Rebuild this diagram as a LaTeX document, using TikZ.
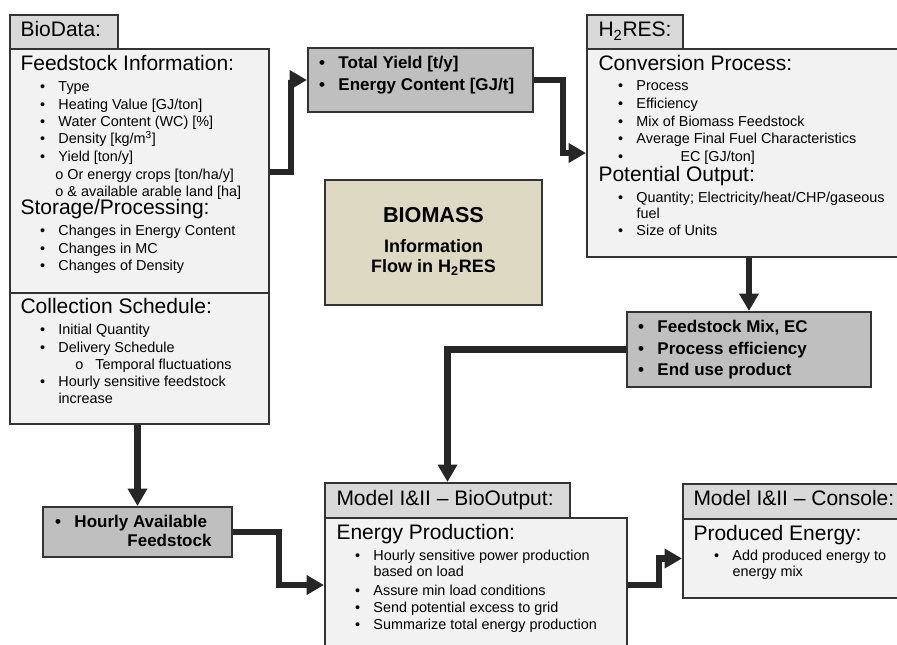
\documentclass[tikz,border=0pt]{standalone}
\usepackage{fontspec}
\setmainfont{Liberation Sans}
\usetikzlibrary{arrows.meta,fit}

\definecolor{panelgray}{HTML}{F2F2F2}
\definecolor{tabgray}{HTML}{D9D9D9}
\definecolor{infogray}{HTML}{BFBFBF}
\definecolor{biomasstan}{HTML}{DDD9C3}
\definecolor{edgeink}{HTML}{333333}
\definecolor{flowink}{HTML}{262626}

\newcommand\bul{\llap{\textbullet\hspace{10pt}}}

\tikzset{every picture/.style={line width=0.75pt}}
\tikzset{
  panel/.style={draw=edgeink, line width=1.5pt, fill=panelgray, inner sep=0pt},
  tabbox/.style={panel, fill=tabgray},
  infobox/.style={panel, fill=infogray},
  titlebox/.style={panel, fill=biomasstan},
  txt/.style={anchor=west, inner sep=0pt, text height=0.68em, text depth=0.12em},
  head/.style={txt, font=\fontsize{15.75}{18}\selectfont},
  item/.style={txt, font=\fontsize{10.8}{12.6}\selectfont},
  info/.style={txt, font=\bfseries\fontsize{12.75}{15}\selectfont},
  flow/.style={draw=flowink, line width=5pt, -{Triangle[length=13pt,width=14pt]}}
}

\begin{document}
\begin{tikzpicture}[x=0.75pt,y=0.75pt,yscale=-1,xscale=1]
\useasboundingbox (0,0) rectangle (897,644);
\clip (0,0) rectangle (897,644);

%Shape: Rectangle - BioData
\node[tabbox, fit={(10,15) (118,49)}] (biotab) {};
\node[panel, fit={(10,49) (269,293)}] (bioupper) {};
\node[panel, fit={(10,293) (269,424)}] (biolower) {};
%Shape: Rectangle - totals
\node[infobox, fit={(308,48) (533,112)}] (yieldbox) {};
%Shape: Rectangle - H2RES
\node[tabbox, fit={(587,15) (683,49)}] (h2tab) {};
\node[panel, fit={(587,49) (905,257)}] (h2box) {};
%Shape: Rectangle - title
\node[titlebox, fit={(325,180) (542,305)}] (biomass) {};
%Shape: Rectangle - mix
\node[infobox, fit={(627,312) (871,387)}] (mixbox) {};
%Shape: Rectangle - hourly
\node[infobox, fit={(43,507) (232,557)}] (hourbox) {};
%Shape: Rectangle - BioOutput
\node[tabbox, fit={(325,483) (570,518)}] (outtab) {};
\node[panel, fit={(325,518) (627,652)}] (outbox) {};
%Shape: Rectangle - Console
\node[tabbox, fit={(683,484) (905,519)}] (contab) {};
\node[panel, fit={(683,519) (905,598)}] (conbox) {};

%Straight Lines - flows
\draw[flow] (bioupper.east |- 0,172) -- ++(21,0) |- (yieldbox.west);
\draw[flow] (yieldbox.east) -- ++(29,0) |- (h2box.west);
\draw[flow] (h2box.south -| mixbox.north) -- (mixbox.north);
\draw[flow] (mixbox.west) -| (outtab.north);
\draw[flow] (biolower.south -| hourbox.north) -- (hourbox.north);
\draw[flow] (hourbox.east) -- ++(46,0) |- (outbox.west);
\draw[flow] (outbox.east) -- ++(31,0) |- (conbox.west);

% Text Node - BioData
\node[head] (biotitle) at (20,33) {BioData:};
\node[head] (fihead) at (20,67) {Feedstock Information:};
\node[item] (fi1) at (58,88) {\bul Type};
\node[item] (fi2) at (58,106) {\bul Heating Value [GJ/ton]};
\node[item] (fi3) at (58,123) {\bul Water Content (WC) [\%]};
\node[item] (fi4) at (58,140) {\bul Density [kg/m\textsuperscript{3}]};
\node[item] (fi5) at (58,158) {\bul Yield [ton/y]};
\node[item] (fi6) at (67,176) {\llap{o\hspace{3pt}}Or energy crops [ton/ha/y]};
\node[item] (fi7) at (67,193) {\llap{o\hspace{3pt}}\& available arable land [ha]};
\node[head] (sphead) at (20,211) {Storage/Processing:};
\node[item] (sp1) at (58,232) {\bul Changes in Energy Content};
\node[item] (sp2) at (58,250) {\bul Changes in MC};
\node[item] (sp3) at (58,267) {\bul Changes of Density};
\node[head] (cshead) at (20,310) {Collection Schedule:};
\node[item] (cs1) at (58,331) {\bul Initial Quantity};
\node[item] (cs2) at (58,349) {\bul Delivery Schedule};
\node[item] (cs3) at (95,366) {\llap{o\hspace{9pt}}Temporal fluctuations};
\node[item] (cs4) at (58,383) {\bul Hourly sensitive feedstock};
\node[item] (cs5) at (58,400) {increase};

% Text Node - totals
\node[info] (ty1) at (338,65) {\bul Total Yield [t/y]};
\node[info] (ty2) at (338,87) {\bul Energy Content [GJ/t]};

% Text Node - H2RES
\node[head] (h2title) at (598,33) {H\textsubscript{2}RES:};
\node[head] (cphead) at (598,67) {Conversion Process:};
\node[item] (cp1) at (636,87) {\bul Process};
\node[item] (cp2) at (636,105) {\bul Efficiency};
\node[item] (cp3) at (636,123) {\bul Mix of Biomass Feedstock};
\node[item] (cp4) at (636,140) {\bul Average Final Fuel Characteristics};
\node[item] (cp5) at (680,158) {\llap{\textbullet\hspace{43pt}}EC [GJ/ton]};
\node[head] (pohead) at (598,178) {Potential Output:};
\node[item] (po1) at (636,199) {\bul Quantity; Electricity/heat/CHP/gaseous};
\node[item] (po2) at (636,215) {fuel};
\node[item] (po3) at (636,232) {\bul Size of Units};

% Text Node - title
\node[txt, anchor=center, font=\bfseries\fontsize{16.2}{19}\selectfont] (bmtitle) at (433.5,219) {BIOMASS};
\node[txt, anchor=center, font=\bfseries\fontsize{13.5}{16}\selectfont] (bminfo) at (433.5,249) {Information};
\node[txt, anchor=center, font=\bfseries\fontsize{13.5}{16}\selectfont] (bmflow) at (433.5,269) {Flow in H\textsubscript{2}RES};

% Text Node - mix
\node[info] (mx1) at (657,329) {\bul Feedstock Mix, EC};
\node[info] (mx2) at (657,351) {\bul Process efficiency};
\node[info] (mx3) at (657,372) {\bul End use product};

% Text Node - hourly
\node[info] (hr1) at (74,524) {\bul Hourly Available};
\node[info, anchor=east] (hr2) at (212,543) {Feedstock};

% Text Node - BioOutput
\node[head] (outtitle) at (336,502) {Model I\&II – BioOutput:};
\node[head] (ephead) at (336,536) {Energy Production:};
\node[item] (ep1) at (373,557) {\bul Hourly sensitive power production};
\node[item] (ep2) at (373,573) {based on load};
\node[item] (ep3) at (373,592) {\bul Assure min load conditions};
\node[item] (ep4) at (373,609) {\bul Send potential excess to grid};
\node[item] (ep5) at (373,626) {\bul Summarize total energy production};

% Text Node - Console
\node[head] (contitle) at (693,502) {Model I\&II – Console:};
\node[head] (pehead) at (693,537) {Produced Energy:};
\node[item] (pe1) at (732,557) {\bul Add produced energy to};
\node[item] (pe2) at (732,573) {energy mix};

\end{tikzpicture}
\end{document}
